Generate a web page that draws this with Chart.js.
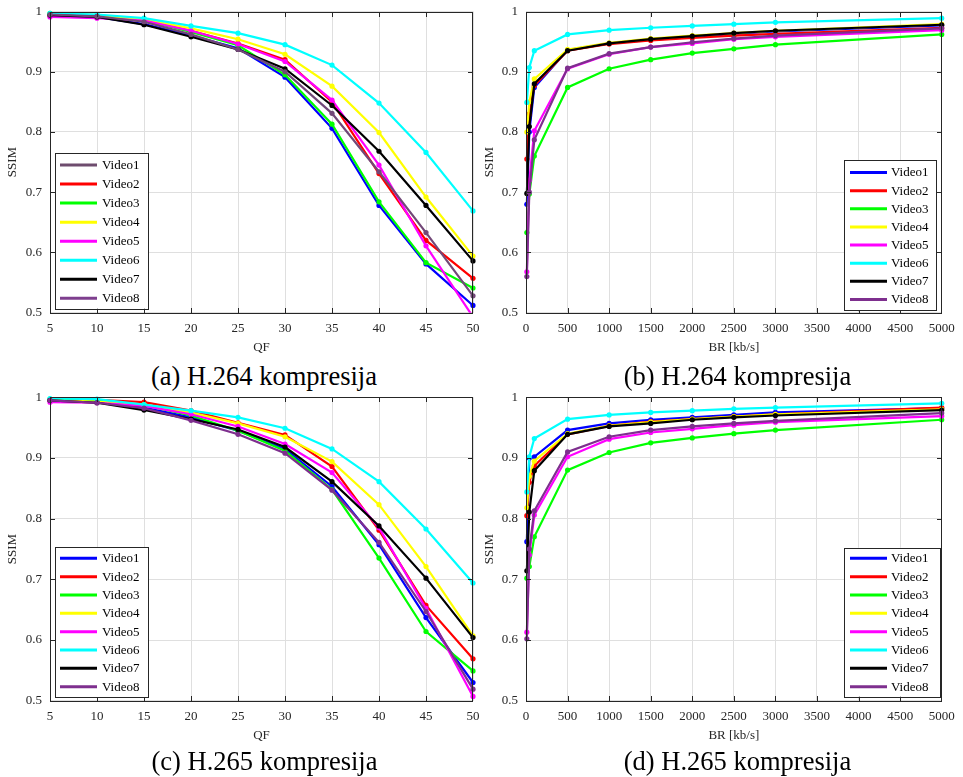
<!DOCTYPE html>
<html><head><meta charset="utf-8">
<script src="https://cdn.jsdelivr.net/npm/chart.js@4.4.0/dist/chart.umd.min.js"></script>
<style>
html,body{margin:0;padding:0;background:#fff}
body{width:963px;height:777px;position:relative;overflow:hidden;font-family:'Liberation Serif',serif}
canvas{position:absolute}
.cap{position:absolute;font-family:'Liberation Serif',serif;font-size:26.5px;line-height:26px;color:#000;white-space:nowrap;transform:translate(-50%,-50%)}
</style></head><body>
<script>
// ---------- data ----------
const VIDEOS = ['Video1','Video2','Video3','Video4','Video5','Video6','Video7','Video8'];
const QF = [5,10,15,20,25,30,35,40,45,50];
const BR = [10,40,100,500,1000,1500,2000,2500,3000,5000];
const QF_TICKS = [5,10,15,20,25,30,35,40,45,50];
const BR_TICKS = [0,500,1000,1500,2000,2500,3000,3500,4000,4500,5000];
const SSIM_TICKS = [0.5,0.6,0.7,0.8,0.9,1];

// (a) H.264, SSIM vs QF
const h264QF_V1 = [0.995,0.991,0.979,0.960,0.939,0.891,0.806,0.678,0.581,0.512];
const h264QF_V2 = [0.993,0.990,0.985,0.968,0.947,0.920,0.850,0.731,0.620,0.557];
const h264QF_V3 = [0.997,0.994,0.986,0.966,0.944,0.895,0.813,0.684,0.583,0.541];
const h264QF_V4 = [0.995,0.993,0.987,0.972,0.954,0.929,0.876,0.799,0.692,0.594];
const h264QF_V5 = [0.991,0.989,0.985,0.968,0.946,0.917,0.853,0.745,0.611,0.493];
const h264QF_V6 = [0.997,0.995,0.989,0.976,0.964,0.945,0.911,0.848,0.766,0.669];
const h264QF_V7 = [0.994,0.991,0.978,0.958,0.937,0.905,0.844,0.768,0.678,0.586];
const h264QF_V8 = [0.995,0.992,0.983,0.962,0.937,0.900,0.831,0.734,0.633,0.528];

// (b) H.264, SSIM vs bitrate
const h264BR_V1 = [0.680,0.800,0.874,0.936,0.947,0.953,0.958,0.963,0.967,0.977];
const h264BR_V2 = [0.755,0.830,0.877,0.935,0.946,0.952,0.956,0.960,0.963,0.973];
const h264BR_V3 = [0.633,0.697,0.760,0.874,0.905,0.920,0.931,0.938,0.945,0.962];
const h264BR_V4 = [0.800,0.850,0.888,0.937,0.948,0.955,0.960,0.964,0.968,0.979];
const h264BR_V5 = [0.568,0.720,0.802,0.905,0.929,0.941,0.947,0.954,0.958,0.969];
const h264BR_V6 = [0.849,0.907,0.935,0.962,0.969,0.973,0.976,0.979,0.982,0.989];
const h264BR_V7 = [0.698,0.809,0.880,0.935,0.947,0.954,0.959,0.964,0.968,0.978];
const h264BR_V8 = [0.560,0.700,0.787,0.906,0.930,0.941,0.949,0.955,0.960,0.972];

// (c) H.265, SSIM vs QF
const h265QF_V1 = [0.995,0.992,0.983,0.967,0.945,0.915,0.853,0.757,0.637,0.530];
const h265QF_V2 = [0.995,0.996,0.992,0.978,0.958,0.938,0.886,0.781,0.657,0.569];
const h265QF_V3 = [0.997,0.995,0.987,0.970,0.945,0.912,0.848,0.735,0.614,0.549];
const h265QF_V4 = [0.995,0.993,0.988,0.975,0.957,0.935,0.894,0.823,0.721,0.607];
const h265QF_V5 = [0.992,0.991,0.986,0.972,0.952,0.923,0.876,0.785,0.652,0.507];
const h265QF_V6 = [0.998,0.997,0.988,0.978,0.967,0.949,0.915,0.861,0.783,0.694];
const h265QF_V7 = [0.995,0.991,0.979,0.964,0.947,0.918,0.861,0.788,0.702,0.604];
const h265QF_V8 = [0.995,0.991,0.982,0.962,0.939,0.908,0.847,0.761,0.647,0.519];

// (d) H.265, SSIM vs bitrate
const h265BR_V1 = [0.762,0.900,0.902,0.946,0.957,0.963,0.967,0.971,0.975,0.982];
const h265BR_V2 = [0.805,0.860,0.887,0.939,0.953,0.960,0.964,0.968,0.972,0.983];
const h265BR_V3 = [0.702,0.721,0.770,0.880,0.909,0.925,0.933,0.940,0.946,0.963];
const h265BR_V4 = [0.818,0.870,0.895,0.940,0.953,0.959,0.964,0.968,0.972,0.980];
const h265BR_V5 = [0.613,0.740,0.806,0.902,0.931,0.942,0.948,0.954,0.959,0.969];
const h265BR_V6 = [0.844,0.902,0.932,0.964,0.971,0.975,0.978,0.981,0.983,0.990];
const h265BR_V7 = [0.714,0.811,0.879,0.939,0.952,0.957,0.963,0.967,0.970,0.979];
const h265BR_V8 = [0.602,0.750,0.813,0.910,0.935,0.946,0.952,0.957,0.961,0.974];

const CAPTIONS = ['(a) H.264 kompresija','(b) H.264 kompresija','(c) H.265 kompresija','(d) H.265 kompresija'];

// ---------- styling ----------
const COLORS = ['#0000FF','#FF0000','#00FF00','#FFFF00','#FF00FF','#00FFFF','#000000','#7E2F8E'];
const COLORS_A = ['#0000FF','#FF0000','#00FF00','#FFFF00','#FF00FF','#00FFFF','#000000','#724878'];
const LEGEND_A = ['#6E4C6E','#FF0000','#00FF00','#FFFF00','#FF00FF','#00FFFF','#000000','#7E3F8E'];
const AX = '#262626';
const GRID = '#DFDFDF';
const FAMILY = "'Liberation Serif', 'Times New Roman', serif";

const panels = [
  {left:0, top:0, w:490, h:360, yW:50, padTop:11.5, padRight:17, xH:47.3,
   xs:QF, xticks:QF_TICKS, xmin:5, xmax:50, xTitle:'QF', colors:COLORS_A, legendColors:LEGEND_A,
   series:[h264QF_V1,h264QF_V2,h264QF_V3,h264QF_V4,h264QF_V5,h264QF_V6,h264QF_V7,h264QF_V8],
   leg:{l:55,t:152.7,r:148.3,b:308.7,row0:165,dy:19.05,lx0:60,lx1:97,tx:102},
   cap:{x:264,y:376}},
  {left:477, top:0, w:486, h:360, yW:49, padTop:11.5, padRight:21.3, xH:47.3,
   xs:BR, xticks:BR_TICKS, xmin:0, xmax:5000, xTitle:'BR [kb/s]', colors:COLORS, legendColors:COLORS,
   series:[h264BR_V1,h264BR_V2,h264BR_V3,h264BR_V4,h264BR_V5,h264BR_V6,h264BR_V7,h264BR_V8],
   leg:{l:844.3,t:160,r:936.7,b:310,row0:172.5,dy:18.14,lx0:850,lx1:887,tx:891},
   cap:{x:737.5,y:376}},
  {left:0, top:385, w:490, h:363, yW:50, padTop:12.3, padRight:17, xH:47.3,
   xs:QF, xticks:QF_TICKS, xmin:5, xmax:50, xTitle:'QF', colors:COLORS, legendColors:COLORS,
   series:[h265QF_V1,h265QF_V2,h265QF_V3,h265QF_V4,h265QF_V5,h265QF_V6,h265QF_V7,h265QF_V8],
   leg:{l:55,t:547.3,r:148.3,b:697.3,row0:558.3,dy:18.34,lx0:60,lx1:97,tx:102},
   cap:{x:264.5,y:761}},
  {left:477, top:385, w:486, h:363, yW:49, padTop:12.3, padRight:21.3, xH:47.3,
   xs:BR, xticks:BR_TICKS, xmin:0, xmax:5000, xTitle:'BR [kb/s]', colors:COLORS, legendColors:COLORS,
   series:[h265BR_V1,h265BR_V2,h265BR_V3,h265BR_V4,h265BR_V5,h265BR_V6,h265BR_V7,h265BR_V8],
   leg:{l:844.3,t:547.7,r:940,b:696.7,row0:558.3,dy:18.34,lx0:850,lx1:887,tx:891},
   cap:{x:737.5,y:761}}
];

const framePlugin = {
  id:'frame',
  afterDatasetsDraw(chart){
    const {ctx, chartArea:a, scales:{x,y}} = chart;
    const L=Math.round(a.left), R=Math.round(a.right), T=Math.round(a.top), B=Math.round(a.bottom);
    ctx.save();
    ctx.strokeStyle=AX; ctx.lineWidth=1;
    ctx.beginPath();
    x.ticks.forEach(t=>{
      const px=Math.round(x.getPixelForValue(t.value))+0.5;
      if (px<L+2||px>R-2) return;
      ctx.moveTo(px,B); ctx.lineTo(px,B-5);
      ctx.moveTo(px,T); ctx.lineTo(px,T+5);
    });
    y.ticks.forEach(t=>{
      const py=Math.round(y.getPixelForValue(t.value))+0.5;
      if (py<T+2||py>B-2) return;
      ctx.moveTo(L,py); ctx.lineTo(L+5,py);
      ctx.moveTo(R,py); ctx.lineTo(R-5,py);
    });
    ctx.stroke();
    ctx.strokeRect(L+0.5,T+0.5,R-L-1,B-T);
    ctx.restore();
  }
};

function legendPlugin(p){
  return {
    id:'insideLegend',
    afterDraw(chart){
      const ctx=chart.ctx, g=p.leg, ox=p.left, oy=p.top;
      ctx.save();
      ctx.fillStyle='#fff';
      ctx.fillRect(g.l-ox, g.t-oy, g.r-g.l, g.b-g.t);
      ctx.strokeStyle=AX; ctx.lineWidth=1;
      ctx.strokeRect(Math.round(g.l-ox)+0.5, Math.round(g.t-oy)+0.5, Math.round(g.r-g.l), Math.round(g.b-g.t));
      ctx.font="13px "+FAMILY;
      ctx.textBaseline='middle';
      chart.data.datasets.forEach((ds,i)=>{
        const yy=g.row0+i*g.dy-oy;
        ctx.strokeStyle=p.legendColors[i]; ctx.lineWidth=3;
        ctx.beginPath(); ctx.moveTo(g.lx0-ox,yy); ctx.lineTo(g.lx1-ox,yy); ctx.stroke();
        ctx.fillStyle='#000';
        ctx.fillText(ds.label, g.tx-ox, yy+0.5);
      });
      ctx.restore();
    }
  };
}

function makePanel(p, idx){
  const cv=document.createElement('canvas');
  cv.width=p.w; cv.height=p.h;
  cv.style.left=p.left+'px'; cv.style.top=p.top+'px';
  cv.style.width=p.w+'px'; cv.style.height=p.h+'px';
  document.body.appendChild(cv);
  const n=p.series.length;
  new Chart(cv,{
    type:'line',
    data:{datasets:p.series.map((ys,i)=>({
      label:VIDEOS[i],
      data:p.xs.map((xv,j)=>({x:xv,y:ys[j]})),
      borderColor:p.colors[i], backgroundColor:p.colors[i],
      pointBackgroundColor:p.colors[i], pointBorderWidth:0, pointRadius:2.6,
      borderWidth:2.2, tension:0, fill:false, order:n-i,
      clip:{left:5,right:5,top:5,bottom:0}
    }))},
    options:{
      responsive:false, animation:false, devicePixelRatio:1,
      events:[],
      layout:{padding:{left:0,top:p.padTop,right:p.padRight,bottom:0}},
      plugins:{legend:{display:false}, tooltip:{enabled:false}},
      scales:{
        x:{type:'linear', min:p.xmin, max:p.xmax,
           afterBuildTicks:s=>{s.ticks=p.xticks.map(v=>({value:v}));},
           ticks:{padding:8, color:AX, font:{family:FAMILY,size:13}, maxRotation:0, autoSkip:false,
                  callback:v=>String(v)},
           grid:{color:GRID, lineWidth:1, drawTicks:false},
           border:{display:false},
           title:{display:true, text:p.xTitle, color:AX, font:{family:FAMILY,size:13}, padding:{top:0,bottom:4.7}},
           afterFit:s=>{s.height=p.xH; s.paddingLeft=0; s.paddingRight=0;}},
        y:{type:'linear', min:0.5, max:1,
           afterBuildTicks:s=>{s.ticks=SSIM_TICKS.map(v=>({value:v}));},
           ticks:{padding:8, color:AX, font:{family:FAMILY,size:13}, callback:v=>String(v)},
           grid:{color:GRID, lineWidth:1, drawTicks:false},
           border:{display:false},
           title:{display:true, text:'SSIM', color:AX, font:{family:FAMILY,size:13}, padding:{top:5,bottom:0}},
           afterFit:s=>{s.width=p.yW; s.paddingTop=0; s.paddingBottom=0;}}
      }
    },
    plugins:[framePlugin, legendPlugin(p)]
  });
  const cap=document.createElement('div');
  cap.className='cap';
  cap.textContent=CAPTIONS[idx];
  cap.style.left=p.cap.x+'px'; cap.style.top=p.cap.y+'px';
  document.body.appendChild(cap);
}

panels.forEach(makePanel);
</script>
</body></html>
